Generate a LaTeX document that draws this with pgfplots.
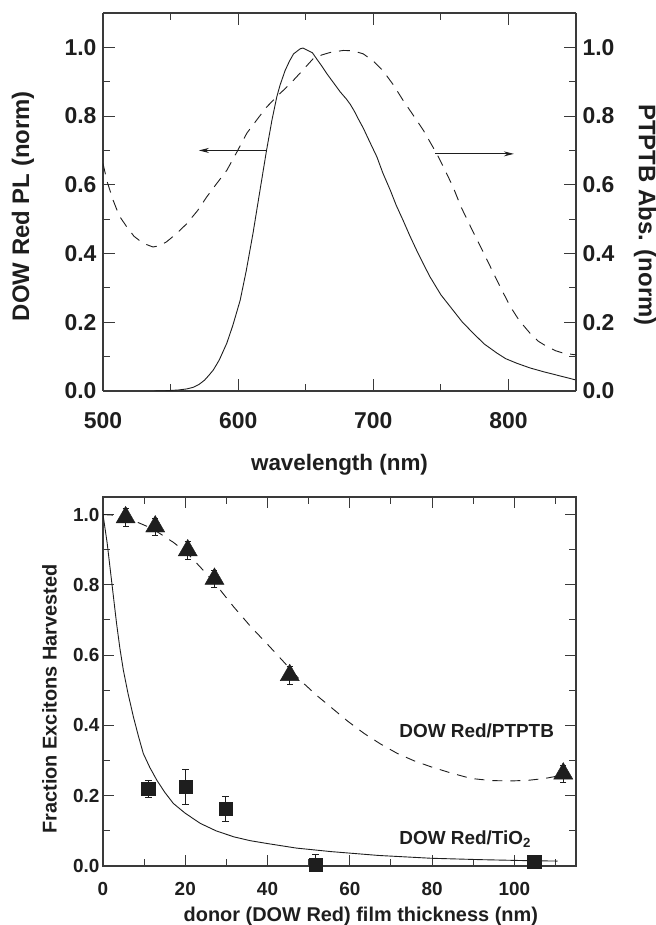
\documentclass[border=0pt]{standalone}
\usepackage{pgfplots}
\pgfplotsset{compat=1.18}
\usepackage{fontspec}
\setmainfont{Liberation Sans}
\usetikzlibrary{arrows.meta}
\definecolor{ink}{HTML}{1E1E1E}
\definecolor{axc}{HTML}{3A3A3A}

\pgfplotsset{
  common/.style={
    scale only axis, anchor=south west,
    /pgf/number format/assume math mode=true,
    axis line style={axc, line width=1.1bp},
    every tick/.style={axc, line width=1bp},
    tick align=inside,
    yticklabel style={/pgf/number format/fixed, /pgf/number format/fixed zerofill, /pgf/number format/precision=1},
    label style={text=ink},
    tick label style={text=ink},
  }
}

\begin{document}
\begin{tikzpicture}[x=1bp,y=1bp]
\useasboundingbox (0,0) rectangle (656,925);

% ---------------- top panel (left axis: PL) ----------------
\begin{axis}[common,
  at={(103bp,534bp)}, width=473bp, height=378bp,
  xmin=500, xmax=850, ymin=0, ymax=1.1,
  axis y line*=left,
  xtick={500,600,700,800}, minor xtick={550,650,750,850},
  ytick={0,0.2,0.4,0.6,0.8,1.0}, minor ytick={0.1,0.3,0.5,0.7,0.9},
  major tick length=12bp, minor tick length=7bp,
  tick label style={font=\fontsize{23}{23}\selectfont\bfseries},
  xticklabel style={yshift=-18bp},
  yticklabel style={xshift=-3bp},
  xlabel={\fontsize{22.5}{22.5}\selectfont\bfseries wavelength (nm)},
  xlabel style={at={(axis description cs:0.5,-0.196)}, anchor=center},
  ylabel={\fontsize{24}{24}\selectfont\bfseries DOW Red PL (norm)},
  ylabel style={at={(axis description cs:-0.169,0.489)}, anchor=center, rotate=0},
]
\addplot[ink, line width=0.9bp] coordinates {
(538,0) (548,0.001) (556,0.003) (562,0.006) (567,0.011) (571,0.019) (575,0.031) (578,0.044) (581.6,0.061)
(586,0.09) (591.6,0.139) (596,0.19) (601.5,0.264) (606,0.35) (611,0.459) (616,0.58)
(621,0.70) (625,0.788) (628.6,0.856) (631,0.89) (634.8,0.933) (638,0.96) (641,0.981)
(644,0.99) (646,0.996) (648,0.998) (651,0.992) (655,0.984) (658,0.967) (662,0.945)
(665.7,0.923) (670,0.9) (675.6,0.87) (680,0.85) (683,0.834) (686,0.814) (689,0.791)
(692.6,0.765) (697,0.728) (702.7,0.681) (707,0.635) (712.6,0.584) (717,0.54) (722,0.497)
(727,0.452) (732,0.41) (737,0.37) (742,0.332) (750,0.28) (759,0.235) (766,0.2)
(774,0.168) (782,0.137) (791.6,0.11) (798,0.094) (806,0.081) (816,0.067) (826,0.056)
(838,0.044) (850,0.032)};
\draw[ink, line width=0.9bp, -{Stealth[length=10bp,width=5bp]}] (axis cs:621.5,0.70) -- (axis cs:571,0.70);
\draw[ink, line width=0.9bp, -{Stealth[length=10bp,width=5bp]}] (axis cs:746,0.69) -- (axis cs:804,0.69);
\end{axis}

% ---------------- top panel (right axis: absorption) ----------------
\begin{axis}[common,
  at={(103bp,534bp)}, width=473bp, height=378bp,
  xmin=500, xmax=850, ymin=0, ymax=1.1,
  axis y line*=right, axis x line=none,
  ytick={0,0.2,0.4,0.6,0.8,1.0}, minor ytick={0.1,0.3,0.5,0.7,0.9},
  major tick length=12bp, minor tick length=7bp,
  tick label style={font=\fontsize{23}{23}\selectfont\bfseries},
  yticklabel style={xshift=3bp},
  ylabel={\fontsize{24}{24}\selectfont\bfseries PTPTB Abs. (norm)},
  ylabel style={at={(axis description cs:1.146,0.466)}, anchor=center, rotate=180},
]
\addplot[ink, line width=0.9bp, dash pattern=on 11bp off 8bp] coordinates {
(500,0.662) (503,0.61) (507.5,0.555) (512,0.51) (517.5,0.478) (523,0.45) (529.6,0.43)
(537,0.419) (542,0.423) (547,0.434) (555,0.46) (562,0.487) (570,0.525) (576.8,0.565)
(584,0.603) (591.6,0.642) (599,0.695) (606.4,0.75) (614,0.79) (621,0.826) (630,0.862)
(638.5,0.894) (647,0.93) (655.5,0.967) (662,0.978) (668,0.985) (677.8,0.991) (685,0.99)
(692.6,0.981) (700,0.96) (707,0.933) (715,0.89) (722,0.846) (730,0.8) (737,0.759)
(747,0.69) (753,0.643) (759,0.594) (765,0.535) (772,0.478) (780,0.415) (786.7,0.361)
(794,0.302) (801.5,0.245) (808,0.205) (816,0.168) (822,0.145) (828.6,0.129) (835,0.117)
(840.7,0.11) (850,0.105)};
\end{axis}

% ---------------- bottom panel ----------------
\begin{axis}[common,
  at={(103bp,59bp)}, width=473bp, height=369bp,
  xmin=0, xmax=115, ymin=0, ymax=1.05,
  xtick={0,20,40,60,80,100}, minor xtick={10,30,50,70,90,110},
  ytick={0,0.2,0.4,0.6,0.8,1.0}, minor ytick={0.1,0.3,0.5,0.7,0.9},
  major tick length=11bp, minor tick length=7bp,
  tick label style={font=\fontsize{19}{19}\selectfont\bfseries},
  xticklabel style={yshift=-13bp},
  xlabel={\fontsize{20}{20}\selectfont\bfseries donor (DOW Red) film thickness (nm)},
  xlabel style={at={(axis description cs:0.545,-0.137)}, anchor=center},
  ylabel={\fontsize{20}{20}\selectfont\bfseries Fraction Excitons Harvested},
  ylabel style={at={(axis description cs:-0.113,0.4526)}, anchor=center, rotate=0},
]
\addplot[ink, line width=0.9bp] coordinates {
(0,1.0) (0.5,0.96) (1.0,0.92) (1.7,0.85) (2.5,0.77) (3.3,0.69) (4.1,0.62) (4.95,0.557)
(6.1,0.49) (7.4,0.424) (8.6,0.37) (9.8,0.32) (11.4,0.28) (13.1,0.244) (15,0.21)
(17.1,0.178) (20,0.15) (23.7,0.121) (27.5,0.1) (31.8,0.083) (35.8,0.072) (39.9,0.064)
(47,0.051) (55.4,0.041) (67,0.03) (79.8,0.022) (92,0.018) (104,0.015) (110.5,0.014)};
\addplot[ink, line width=0.9bp, dash pattern=on 10bp off 8bp] coordinates {
(0,1.0) (3,0.998) (7.4,0.983) (12,0.96) (17.1,0.921) (20.5,0.89) (23.7,0.85) (27.5,0.8)
(31.8,0.737) (36,0.68) (39.9,0.632) (44,0.58) (48,0.528) (52,0.485) (55.4,0.452)
(59.5,0.412) (63.5,0.377) (67.5,0.347) (71.6,0.32) (75.7,0.299) (79.8,0.282) (84.5,0.265)
(89.5,0.249) (94.5,0.243) (99.3,0.242) (103.5,0.244) (107.4,0.249) (112.3,0.26)};
\addplot[ink, only marks, mark=triangle*, mark size=11bp, mark options={fill=ink, draw=ink},
  error bars/.cd, y dir=both, y explicit, error bar style={ink, line width=0.8bp}, error mark options={rotate=90, mark size=3bp, ink}]
 coordinates {
(5.5,0.992) +- (0,0.025)
(12.7,0.966) +- (0,0.025)
(20.6,0.898) +- (0,0.025)
(27.1,0.817) +- (0,0.025)
(45.4,0.543) +- (0,0.025)
(111.9,0.263) +- (0,0.025)};
\addplot[ink, only marks, mark=square*, mark size=6.8bp, mark options={fill=ink, draw=ink},
  error bars/.cd, y dir=both, y explicit, error bar style={ink, line width=0.8bp}, error mark options={rotate=90, mark size=3.5bp, ink}]
 coordinates {
(11.05,0.22) +- (0,0.024)
(20.1,0.226) +- (0,0.05)
(29.8,0.163) +- (0,0.035)
(51.7,0.004) +- (0,0.03)
(104.8,0.012) +- (0,0.005)};
\node[anchor=west, text=ink, font=\fontsize{19}{19}\selectfont\bfseries] at (axis cs:71.2,0.386) {DOW Red/PTPTB};
\node[anchor=west, text=ink, font=\fontsize{19}{19}\selectfont\bfseries] at (axis cs:71.2,0.077) {DOW Red/TiO\textsubscript{2}};
\end{axis}
\end{tikzpicture}
\end{document}
